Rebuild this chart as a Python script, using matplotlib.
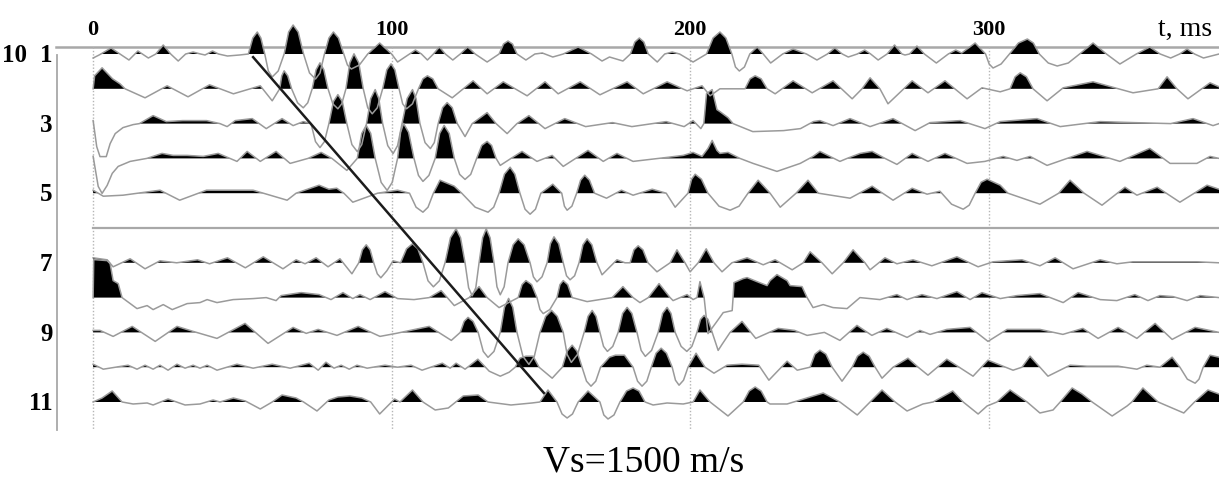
import numpy as np
import matplotlib
matplotlib.use("Agg")
import matplotlib.pyplot as plt

# ---------------- data: (time in ms, amplitude) key points per trace ----------------
TRACE_01 = [(0,-4),(2,-1),(6,6),(9,0),(12,-6),(14,0),(15,3),(16.5,0),(18.5,-4),(21,0),(23.5,9),(26,0),(28.5,-7),(31,0),(33.5,2),(36,0),(37.5,-1),(40,3),(42,0),(45,-2),(49,-1),(52,0),(53.5,16),(55,22),(56.2,16),(57.5,0),(58.7,-17),(60,-23),(62,-17),(64,0),(65.5,22),(67,29),(68.7,22),(70.5,0),(72.5,-19),(74.5,-25),(76,-19),(77.5,0),(79,16),(80.5,22),(82.2,16),(84,0),(85.2,-11),(86.5,-15),(89.2,-11),(92,0),(96,11),(100,0),(102,-8),(106,0),(108,4),(110,0),(112,-6),(114,0),(116,7),(118,0),(120.5,-6),(123,0),(125.5,7),(128,0),(132,-8),(136,0),(137.5,10),(139,13),(140.5,10),(142,0),(145,-6),(148,0),(150.5,1),(154,-3),(157.5,0),(162.5,7),(167,0),(170.5,-7),(173,-3),(177.5,-7),(180,0),(181.5,12),(183,16),(184.5,12),(186,0),(189,-8),(191.5,0),(194,2),(196.5,0),(201,-8),(205.5,0),(207.7,16),(210,22),(212,16),(214,0),(215.2,-13),(216.5,-17),(218.2,-13),(220,0),(222.5,7),(224.5,0),(227,-9),(231,0),(234.5,5),(239,0),(242.5,-6),(246,0),(248.5,6),(251,0),(253,-3),(256,0),(258.5,4),(260.5,0),(263,-6),(266,0),(268.5,9),(271,0),(272,-1),(273.5,0),(276,8),(278.5,0),(282.5,-9),(286.5,0),(289,4),(291,1),(295.5,11),(299,0),(300.2,-10),(301.5,-14),(304.2,-10),(307,0),(310,11),(313,15),(315,11),(317,0),(320,-9),(323,-12),(326.7,-9),(330.5,0),(335,11),(339.5,0),(344,-10),(349.5,0),(354,7),(357.5,0),(361,-4),(364,0),(366.5,5),(369,0),(372,-4),(377.2,0)]

TRACE_02 = [(0,0),(0.5,13),(3,21),(6.5,10),(9,5),(10.7,0),(17.4,-9),(24.8,3),(31.8,-8),(39,4),(47,-5),(56,3),(60,-12),(62.5,0),(63.2,13),(64,18),(65.2,13),(66.5,0),(68.5,-14),(70.4,-19),(71.9,-14),(73.4,0),(74.7,19),(76,26),(77.3,19),(78.7,0),(80.3,-15),(82,-20),(83.3,-15),(84.7,0),(86,26),(87.4,35),(89,26),(90.5,0),(92,-19),(93.5,-25),(95.2,-19),(97,0),(98.4,19),(99.8,25),(101.1,19),(102.5,0),(103.7,-15),(105,-20),(107,-15),(109,0),(110.5,10),(112,13),(113.8,10),(115.6,0),(120.3,-9),(127.3,8),(132,-5),(137.4,7),(145.4,-7),(151.4,7),(155.8,-5),(163.2,7),(169.8,-6),(178.9,7),(184.3,-5),(192.3,7),(199,-2),(204,3),(206.7,-7),(210,0),(218.4,0),(220.1,10),(221.8,13),(223.8,10),(225.8,0),(228.5,-5),(234.5,8),(240.9,-4),(247.9,8),(254.3,-10),(257.6,0),(260.3,11),(263.6,0),(266.3,-15),(274.4,8),(279.7,-4),(285.4,8),(292.8,-10),(297.8,1),(303.9,-3),(307.2,0),(308.9,12),(310.6,16),(312.7,12),(314.9,0),(319.6,-12),(325,1),(335,7),(348.4,-4),(356.8,0),(359.8,12),(363.1,0),(366.8,-10),(374.2,6),(377.2,2)]

TRACE_03 = [(0,3),(1.2,-23),(2.3,-33),(4.4,-33),(5.7,-20),(7.4,-10),(10,-4),(13.4,-1),(15.5,0),(20.1,8),(24.5,2),(30,3),(38,3),(42.5,0),(44.9,-3),(47.6,3),(53.3,5),(58,-5),(63.3,5),(67,-2),(70.4,2),(73,0),(74.5,-18),(76,-24),(77.5,-18),(79,0),(80.5,22),(82,29),(83.5,22),(85,0),(86.7,-21),(88.5,-28),(90,-21),(91.6,0),(93,25),(94.5,34),(95.7,25),(97,0),(98.7,-22),(100.5,-30),(102,-22),(103.5,0),(105.2,25),(107,34),(108.2,25),(109.5,0),(111.2,-19),(113,-25),(114.3,-19),(115.6,0),(117.1,16),(118.6,21),(120.3,16),(122,0),(124.6,-13),(127,0),(132,11),(135,0),(138.7,-10),(142,0),(146,8),(151.4,-5),(158,5),(165,-3),(174,1),(180.5,-3),(192,2),(198,-3),(201,3),(203.6,-5),(204.6,0),(205.5,30),(207.4,34),(209,14),(210,12),(212.7,6),(214.4,0),(221,-8),(231.3,-7),(237,-5),(241.3,2),(243.5,3),(247.9,-2),(253.6,5),(260.3,-3),(268,5),(275.4,-7),(280.4,1),(290.5,3),(298.8,-5),(303.9,2),(316.2,5),(324,-3),(337.4,2),(348.4,1),(361,0),(368.5,5),(375.2,-2),(377.2,0)]

TRACE_04 = [(0,2),(1.7,-28),(3,-35),(4.7,-27),(6.4,-15),(8.4,-8),(12.4,-3),(18,0),(23.1,5),(26.8,3),(31.5,3),(36.9,2),(41.9,5),(48.2,-3),(51.6,7),(56,-3),(61.3,7),(66,-5),(72,0),(76.4,6),(80,0),(85,-12),(88.5,0),(90,25),(91.5,33),(93,25),(94.5,0),(96.5,-24),(98.5,-32),(100.2,-24),(102,0),(103,26),(104,35),(105.7,26),(107.5,0),(109,-17),(110.5,-23),(112.5,-17),(114.6,0),(116.1,25),(117.6,33),(119.3,25),(121,0),(122.8,-16),(124.6,-21),(126.5,-16),(128.5,0),(130.2,13),(132,17),(133.5,13),(135,0),(136.4,-7),(140,0),(143.7,7),(148.7,-3),(153.8,3),(157.5,-8),(165.8,8),(170.9,-3),(175.5,5),(180.9,-3),(192.3,1),(197.7,3),(201,6),(204,2),(206,10),(207.4,18),(209,8),(210,5),(212.7,6),(216.7,0),(221.1,-5),(229.1,-13),(236.9,-5),(241.2,2),(243.5,7),(250.2,-3),(252.6,0),(257,5),(261,7),(265.3,0),(269.3,-6),(274.4,5),(279.7,-3),(285.4,5),(292.8,-5),(298.8,-3),(304.9,2),(309.5,-2),(313.9,2),(319.6,-7),(333,7),(344,-3),(354,10),(360.8,-5),(369.8,-5),(374.2,2),(377.2,0)]

TRACE_05 = [(0,3),(3.4,-3),(10,-2),(22.4,3),(29,-7),(38,3),(47,3),(53.6,3),(65,-7),(68,0),(75.7,8),(79,4),(81.6,5),(84,0),(87,-9),(95.3,0),(102,3),(106,0),(108.2,-14),(110.5,-19),(112.2,-14),(114,0),(116.2,13),(121,7),(123.5,0),(128,-14),(132.3,-19),(134.2,-14),(136,0),(137.8,19),(139.7,26),(141.3,19),(143,0),(144.7,-16),(146.4,-21),(148.2,-16),(150,0),(154,9),(157,0),(157.9,-13),(158.8,-17),(160.4,-13),(162,0),(163.3,13),(164.7,18),(166.3,13),(168,0),(172,-5),(177,3),(180.9,-2),(187.3,4),(192,0),(195,-14),(199.3,0),(200.5,14),(201.7,19),(203.8,14),(206,0),(209.7,-13),(213.4,-17),(216.4,-13),(219.4,0),(222.8,13),(226.8,0),(230.2,-14),(235.5,0),(239.5,13),(243,0),(253.6,-5),(261,7),(268,-7),(274.4,5),(279.4,-1),(283.7,2),(287.6,-11),(291.5,-16),(293.5,-12),(295.5,0),(297.5,11),(299.5,14),(303.9,8),(306.5,0),(317.2,-11),(323.5,0),(327.3,13),(332,0),(338,-12),(345.7,6),(349.7,-2),(356.5,6),(364.1,-9),(373.2,8),(377.2,4)]

TRACE_07 = [(0,5),(2.3,4),(4.7,3),(6.7,-4),(12.4,4),(17.4,-6),(22.4,2),(28,0),(35,3),(39,-1),(45,5),(51,-5),(57,6),(63.6,-6),(68,3),(71,-1),(74.7,5),(78.7,-4),(82.7,4),(86.7,-11),(89,0),(90.2,13),(91.5,18),(92.8,13),(94,0),(95.2,-11),(96.4,-15),(98.4,-8),(100.5,2),(103,0),(105,14),(107,19),(108.8,14),(110.5,0),(112.2,-18),(114,-24),(116,-18),(117.9,0),(119.7,25),(121.6,34),(123.1,25),(124.6,0),(125.8,-25),(127,-33),(128.2,-25),(129.3,0),(130.5,25),(131.7,34),(133,25),(134.3,0),(135.3,-24),(136.4,-32),(137.7,-24),(139,0),(140.7,18),(142.4,24),(144.4,18),(146.4,0),(147.5,-14),(148.7,-19),(150.4,-14),(152.1,0),(153.2,19),(154.4,26),(156,19),(157.5,0),(158.6,-13),(159.8,-17),(161.3,-13),(162.8,0),(164.1,18),(165.5,24),(167.1,18),(168.8,0),(170.5,-12),(175.5,3),(178.2,0),(179.9,0),(181.2,13),(182.6,17),(184.2,13),(185.9,0),(188.9,-9),(193.3,0),(195.6,13),(198.3,0),(200,-9),(202.7,0),(205.4,14),(208,0),(210.7,-9),(214,0),(219.1,5),(224.5,-2),(228.5,3),(234.2,-7),(237.9,0),(240.2,11),(244.2,0),(247.6,-11),(251.3,0),(254.6,13),(258.6,0),(260.3,-7),(265.3,5),(269.3,-1),(274.7,3),(281,-3),(289.4,6),(296.5,-4),(301.5,1),(311.2,3),(317.2,-3),(322.3,5),(328.3,-6),(337.4,3),(343,-1),(348.4,1),(357.4,1),(369.8,1),(377.2,0)]

TRACE_08 = [(0,0),(0.2,38),(4.7,37),(5.7,34),(6.7,17),(8.4,14),(9.7,0),(14.7,-11),(18.1,-8),(20.1,-12),(23.5,-7),(26.5,-12),(31.5,-6),(35.8,-5),(38.2,-2),(41.5,-5),(46.9,-2),(53.6,-1),(58,0),(61.3,-3),(63,2),(69.7,5),(75.7,3),(79.7,-2),(83.7,5),(87,-1),(89.4,3),(92.8,-2),(97.8,6),(102,-1),(107.5,-2),(112.6,0),(116.6,7),(121,-8),(126,0),(129.3,11),(132,0),(136,-10),(142.4,0),(143.7,13),(145,17),(146.9,13),(148.7,0),(149.7,-12),(150.8,-16),(153,-12),(155.4,0),(156.4,13),(157.5,17),(159,13),(160.5,0),(165.5,-4),(173.9,0),(177.5,11),(180.9,0),(183.2,-5),(186,0),(189.6,14),(193.3,0),(194.3,-3),(199,3),(201,-2),(202.3,0),(203.3,16),(204.7,0),(206,-36),(208.7,-25),(211.1,-15),(214.1,-13),(214.4,0),(214.7,15),(217.8,19),(219.1,20),(222.4,16),(225.8,12),(226.8,17),(229.1,23),(232.5,17),(233.5,12),(237.5,11),(239.2,0),(241.2,-10),(244.6,-7),(247.9,-10),(252.6,-11),(256.9,0),(263.6,-2),(269.3,3),(272.7,-2),(277.7,3),(282.7,-1),(289.4,6),(293.8,-2),(297.8,5),(303.9,-1),(309.5,2),(317.2,4),(325,-5),(330,5),(337.4,-2),(343,-3),(349,3),(353.4,-3),(357.4,2),(361.8,1),(366.5,-3),(370.9,2),(377.2,0)]

TRACE_09 = [(0,2),(2.3,2),(6.7,-4),(13.1,6),(20.8,-9),(28.1,6),(33.5,1),(41.5,-6),(50.9,9),(58.6,-11),(67,5),(71.4,-1),(75.4,3),(81.7,-3),(88.8,6),(96.1,-4),(101.5,-1),(112.6,6),(120,-8),(123,0),(124.3,11),(125.6,15),(127.3,11),(129,0),(130.7,-19),(132.3,-25),(134.3,-19),(136.4,0),(137.8,25),(139.2,34),(140.6,25),(142,0),(144,-24),(146,-32),(147.8,-24),(149.7,0),(151.6,16),(153.6,22),(155.5,16),(157.5,0),(158.8,-22),(160.2,-30),(162.3,-22),(164.5,0),(165.8,16),(167.2,22),(168.5,16),(169.8,0),(171,-14),(172.3,-19),(174.1,-14),(175.9,0),(177.4,19),(178.9,25),(180.5,19),(182.2,0),(183.6,-18),(185,-24),(187.1,-18),(189.3,0),(190.8,19),(192.3,25),(193.6,19),(195,0),(197,-14),(198.9,-19),(200.6,-14),(202.3,0),(203.5,13),(204.7,17),(206,13),(207.4,0),(209.4,-18),(210.7,-12),(213.4,0),(217.4,11),(222,-6),(229.5,4),(235,2),(239.2,-3),(245,0),(250.2,-8),(255.9,7),(260.9,-3),(265.9,4),(272.7,-5),(277,2),(280.4,-2),(286,3),(293.8,5),(299.8,-9),(306.2,3),(317.2,3),(324.9,-2),(331.6,4),(336.7,-6),(343.4,5),(349.7,-6),(355.8,9),(361.5,-7),(369.2,5),(377.2,0)]

TRACE_10 = [(0,3),(3.4,-2),(11.7,2),(14.7,-2),(17.4,2),(20.1,-2),(22.4,2),(25.1,-3),(28.1,3),(30.8,-1),(33.5,2),(35.8,-1),(38.2,2),(41.5,-3),(48.2,3),(53.6,-1),(60,3),(66,-1),(72.4,4),(75.4,-3),(78,5),(80.7,-1),(83.1,2),(85.8,-2),(88.4,2),(91.8,-1),(97.8,2),(102,0),(106.5,2),(110.2,-3),(117,4),(119.6,-1),(121.6,4),(124.6,-2),(128.9,8),(132.7,-4),(136.4,-9),(139.4,-5),(141.4,0),(143,9),(145,11),(147.4,11),(149.4,0),(153.8,-11),(157.2,0),(158.8,16),(160.5,22),(162.1,16),(163.8,0),(165.3,-14),(166.8,-19),(168.4,-14),(170,0),(173,10),(175,12),(178,12),(180.9,0),(182.4,-14),(183.9,-19),(185.5,-14),(187,0),(188.6,14),(190.3,19),(192.1,14),(194,0),(195.1,-13),(196.3,-18),(197.8,-13),(199.3,0),(202,14),(205,0),(208,-6),(212.4,2),(217.4,3),(223,2),(226.4,-13),(232.5,6),(235.9,-3),(240.2,0),(241.8,13),(243.5,17),(245.5,13),(247.6,0),(250.9,-14),(254.3,0),(256.1,11),(258,15),(260,11),(262,0),(264.3,-11),(268,0),(273,9),(276.4,0),(279.7,-8),(286,8),(294.8,-9),(299.8,7),(308.2,-3),(311.2,0),(313.9,11),(317.2,0),(319.9,-9),(327.3,2),(333,1),(337.4,1),(343.4,1),(349.7,-2),(353,2),(357.4,0),(361.5,10),(364.1,0),(366.6,-12),(369.2,-16),(370.5,-12),(371.9,0),(374.2,12),(377.2,10)]

TRACE_11 = [(0,0),(3,4),(6.4,11),(9.7,0),(13.4,-2),(18.1,-1),(20.1,-3),(25.1,3),(30.8,-3),(35.8,-2),(40.2,2),(42.5,0),(47,4),(51,1),(56,-7),(60,0),(63.3,7),(68,4),(70.5,0),(75,-9),(79,2),(82,5),(86,6),(90,4),(93,0),(96,-12),(101,3),(102.8,0),(107,12),(110.5,0),(114.6,-8),(119,-6),(124,6),(129,7),(132.3,0),(140,-3),(147,-1),(149.7,0),(152.4,12),(155.4,0),(157.1,-12),(158.8,-16),(160.6,-12),(162.5,0),(165.8,11),(169.8,0),(171.1,-13),(172.5,-17),(174.5,-13),(176.5,0),(178.7,11),(180.9,14),(182.9,11),(184.9,0),(187.6,-3),(192.3,-1),(197.7,-2),(201,0),(203.3,12),(206.7,0),(212.7,-14),(217.8,0),(219.8,11),(221.8,15),(223.8,11),(225.8,0),(226.8,-2),(232.5,-2),(236.9,2),(244.6,9),(250.2,0),(256,-13),(260.3,0),(264.3,12),(268.7,0),(272.7,-9),(278,-2),(281.4,0),(288,11),(291.5,0),(296.5,-12),(299.5,-4),(302.8,0),(307.2,12),(312.9,0),(317.2,-11),(321.6,-8),(324,0),(328,14),(331.3,8),(334.7,0),(341.4,-14),(346.4,-4),(348,0),(351.7,14),(356.8,0),(365.4,-11),(369,0),(373.5,12),(377.2,8)]

TRACES = {1: TRACE_01, 2: TRACE_02, 3: TRACE_03, 4: TRACE_04, 5: TRACE_05,
          7: TRACE_07, 8: TRACE_08, 9: TRACE_09, 10: TRACE_10, 11: TRACE_11}
DEAD_TRACE = 6                      # flat (dead) channel
TIME_MAX = 377.2                    # ms, end of record shown
TRACE_LABELS = ["1", "3", "5", "7", "9", "11"]
TRACE_LABEL_POS = [1, 3, 5, 7, 9, 11]
TIME_TICKS = [0, 100, 200, 300]
MOVEOUT_T = [53.6, 151.0]           # ms
MOVEOUT_TRACE = [1.09, 10.74]       # trace number
AMP_PER_TRACE = 34.8                # amplitude units per trace spacing

# ---------------- drawing ----------------
SERIF = ["Liberation Serif", "DejaVu Serif"]
fig = plt.figure(figsize=(12.19, 4.79), dpi=100)
ax = fig.add_axes([0, 0, 1, 1])
ax.set_xlim(-31.2, 377.2)
ax.set_ylim(13.213, -0.552)
ax.axis("off")

grey = "#9a9a9a"
# frame lines
ax.plot([-12.5, TIME_MAX], [0.8, 0.8], color="#a8a8a8", lw=1.8, zorder=1)
ax.plot([-12.1, -12.1], [1.03, 11.8], color="#a8a8a8", lw=1.3, zorder=1)
ax.vlines(TIME_TICKS, 0.8, 11.8, colors="#b5b5b5", linestyles=(0, (1, 1.4)), lw=1.0, zorder=1)

for k, pts in TRACES.items():
    arr = np.array(pts, dtype=float)
    t, a = arr[:, 0], arr[:, 1]
    y = k - a / AMP_PER_TRACE
    ax.fill_between(t, k, y, where=a > 0, interpolate=True, color="black", lw=0, zorder=3)
    ax.plot(t, y, color=grey, lw=1.1, zorder=4, solid_joinstyle="round")

ax.plot([0, TIME_MAX], [DEAD_TRACE, DEAD_TRACE], color="#a8a8a8", lw=1.6, zorder=2)

ax.plot(MOVEOUT_T, MOVEOUT_TRACE, color="#1c1c1c", lw=1.8, zorder=5)

for tt in TIME_TICKS:
    ax.text(tt, 0.3, str(tt), ha="center", va="center", fontsize=16,
            fontweight="bold", family=SERIF)
for lab, k in zip(TRACE_LABELS, TRACE_LABEL_POS):
    ax.text(-13.6, k + 0.05, lab, ha="right", va="center", fontsize=18,
            fontweight="bold", family=SERIF)
ax.text(-22.0, 1.05, "10", ha="right", va="center", fontsize=18,
        fontweight="bold", family=SERIF)
ax.text(375.0, 0.28, "t, ms", ha="right", va="center", fontsize=20, family=SERIF)
ax.text(184.6, 12.72, "Vs=1500 m/s", ha="center", va="center", fontsize=27, family=SERIF)

fig.savefig("out.png", dpi=100)
